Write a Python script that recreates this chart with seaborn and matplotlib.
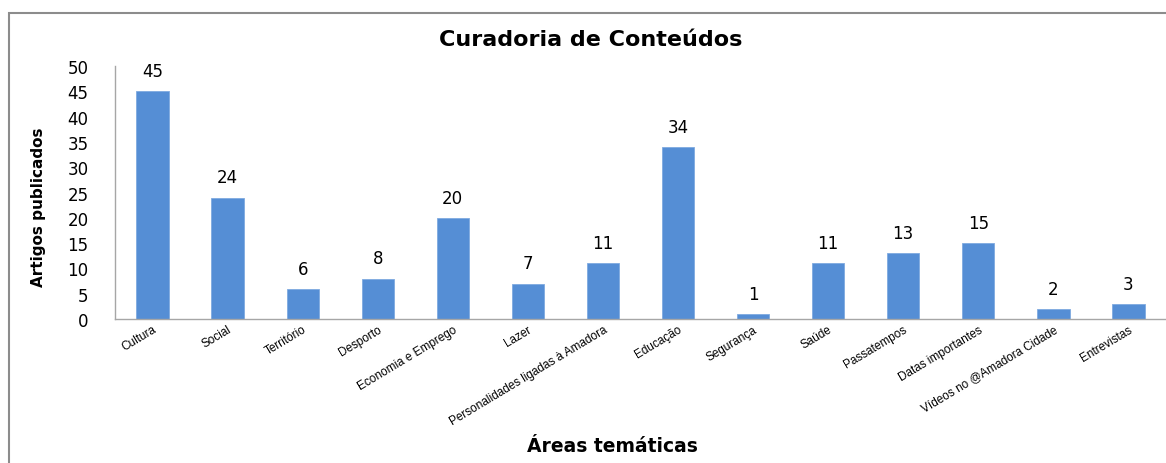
import matplotlib
matplotlib.use("Agg")
import matplotlib.pyplot as plt
import seaborn as sns
import pandas as pd
from matplotlib.patches import Rectangle

# data
areas = ["Cultura", "Social", "Território", "Desporto", "Economia e Emprego",
         "Lazer", "Personalidades ligadas à Amadora", "Educação", "Segurança",
         "Saúde", "Passatempos", "Datas importantes", "Vídeos no @Amadora Cidade",
         "Entrevistas"]
artigos = [45, 24, 6, 8, 20, 7, 11, 34, 1, 11, 13, 15, 2, 3]

df = pd.DataFrame({"area": areas, "artigos": artigos})

sns.set_style("white")
plt.rcParams['font.family'] = ['DejaVu Sans']
plt.rcParams['text.color'] = 'black'
plt.rcParams['xtick.color'] = 'black'
plt.rcParams['ytick.color'] = 'black'

fig = plt.figure(figsize=(11.66, 4.64), dpi=100)
ax = fig.add_axes([0.0986, 0.3103, 0.9014, 0.5453])

sns.barplot(data=df, x="area", y="artigos", color="#558ED5", width=0.43,
            saturation=1, ax=ax, edgecolor="#7FAAE0", linewidth=0.6)

for p, v in zip(ax.patches, artigos):
    ax.text(p.get_x() + p.get_width() / 2, v + 2.2, str(v),
            ha="center", va="bottom", fontsize=12)

ax.set_ylim(0, 50)
ax.set_xlim(-0.5, len(areas) - 0.5)
ax.set_yticks(range(0, 51, 5))
ax.tick_params(axis="y", labelsize=12, length=6, color="#999999", pad=13)
ax.tick_params(axis="x", length=0, pad=3)
ax.set_xticks(range(len(areas)))
ax.set_xticklabels(areas, rotation=31, ha="right", rotation_mode="anchor",
                   fontsize=8.5, family=["Liberation Sans", "DejaVu Sans"])

for s in ["top", "right"]:
    ax.spines[s].set_visible(False)
for s in ["left", "bottom"]:
    ax.spines[s].set_color("#A6A6A6")
    ax.spines[s].set_linewidth(1.0)

ax.set_xlabel("")
ax.set_ylabel("")
fig.text(0.507, 0.913, "Curadoria de Conteúdos", ha="center", va="center",
         fontsize=16, fontweight="bold")
fig.text(0.525, 0.037, "Áreas temáticas", ha="center", va="center",
         fontsize=13.5, fontweight="bold")
fig.text(0.033, 0.554, "Artigos publicados", rotation=90, ha="center", va="center",
         fontsize=11, fontweight="bold")

# outer chart frame
fig.patches.append(Rectangle((9 / 1166, -0.1), 1.2, 1 - 14 / 464 + 0.1,
                             transform=fig.transFigure, fill=False,
                             edgecolor="#8C8C8C", linewidth=1.5))

fig.savefig("out.png", dpi=100)
